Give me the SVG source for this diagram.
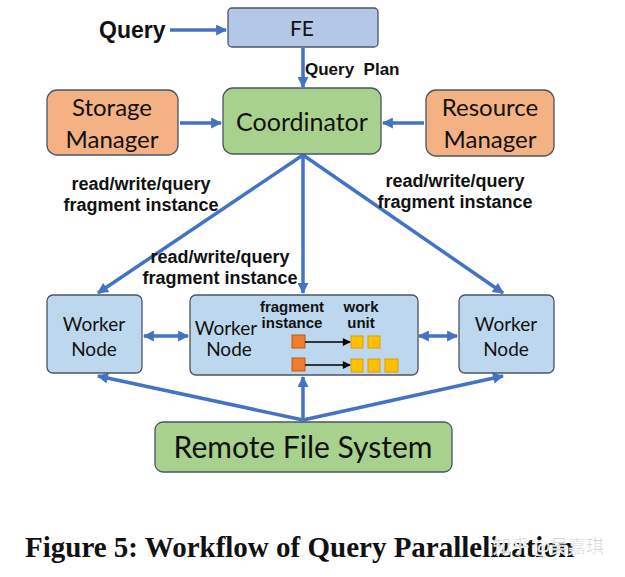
<svg xmlns="http://www.w3.org/2000/svg" width="625" height="577" viewBox="0 0 625 577">
<style>
.box{stroke:#4a5566;stroke-width:1.3}
.fe{fill:#b4c7e7}
.green{fill:#a9d18e}
.orange{fill:#f4b183}
.worker{fill:#bdd7ee}
.t{font-family:Lato,"Open Sans","Noto Sans",sans-serif;fill:#111;text-anchor:middle}
.lbl{font-family:"Liberation Sans",Arial,sans-serif;font-weight:bold;fill:#111;text-anchor:middle}
.conn{stroke:#4472c4;stroke-width:3.5;fill:none}
.fi{fill:#ed7d31;stroke:#c55a11;stroke-width:1}
.wu{fill:#ffc000;stroke:#d9a000;stroke-width:1}
</style>
<defs>
<marker id="ah" viewBox="0 0 10 10" refX="9" refY="5" markerWidth="12" markerHeight="11" markerUnits="userSpaceOnUse" orient="auto-start-reverse">
<path d="M0,0 L10,5 L0,10 z" fill="#4472c4"/>
</marker>
<marker id="bh" viewBox="0 0 10 10" refX="9" refY="5" markerWidth="9" markerHeight="8" markerUnits="userSpaceOnUse" orient="auto">
<path d="M0,0 L10,5 L0,10 z" fill="#000"/>
</marker>
</defs>
<rect width="625" height="577" fill="#fff"/>

<g id="connectors">
<line class="conn" x1="170" y1="30" x2="226" y2="30" marker-end="url(#ah)"/>
<line class="conn" x1="303" y1="48" x2="303" y2="87" marker-end="url(#ah)"/>
<line class="conn" x1="180" y1="123" x2="221" y2="123" marker-end="url(#ah)"/>
<line class="conn" x1="424" y1="123" x2="383" y2="123" marker-end="url(#ah)"/>
<line class="conn" x1="303" y1="155" x2="98" y2="293" marker-end="url(#ah)"/>
<line class="conn" x1="303" y1="155" x2="303" y2="293" marker-end="url(#ah)"/>
<line class="conn" x1="303" y1="155" x2="503" y2="293" marker-end="url(#ah)"/>
<line class="conn" x1="144" y1="336" x2="188" y2="336" marker-start="url(#ah)" marker-end="url(#ah)"/>
<line class="conn" x1="419" y1="336" x2="457" y2="336" marker-start="url(#ah)" marker-end="url(#ah)"/>
<line class="conn" x1="303" y1="420" x2="98" y2="376" marker-end="url(#ah)"/>
<line class="conn" x1="303" y1="420" x2="303" y2="377" marker-end="url(#ah)"/>
<line class="conn" x1="303" y1="420" x2="503" y2="376" marker-end="url(#ah)"/>
<text class="lbl" x="99" y="38" font-size="23" style="text-anchor:start">Query</text>
<text class="lbl" x="305" y="75" font-size="17" style="text-anchor:start">Query&#160; Plan</text>
<text class="lbl" x="141" y="190" font-size="18">read/write/query</text>
<text class="lbl" x="141" y="211" font-size="18">fragment instance</text>
<text class="lbl" x="455" y="187" font-size="18">read/write/query</text>
<text class="lbl" x="455" y="208" font-size="18">fragment instance</text>
<text class="lbl" x="220" y="263" font-size="18">read/write/query</text>
<text class="lbl" x="220" y="284" font-size="18">fragment instance</text>
</g>

<g id="fe">
<rect class="box fe" x="228" y="8" width="150" height="39" rx="4"/>
<text class="t" x="302" y="36" font-size="21">FE</text>
</g>

<g id="coordinator">
<rect class="box green" x="223" y="88" width="158" height="66" rx="10"/>
<text class="t" x="302" y="131" font-size="25">Coordinator</text>
</g>

<g id="storage-manager">
<rect class="box orange" x="47" y="90" width="131" height="65" rx="10"/>
<text class="t" x="112" y="116" font-size="24">Storage</text>
<text class="t" x="112" y="148" font-size="24">Manager</text>
</g>

<g id="resource-manager">
<rect class="box orange" x="426" y="90" width="128" height="66" rx="10"/>
<text class="t" x="490" y="116" font-size="24">Resource</text>
<text class="t" x="490" y="148" font-size="24">Manager</text>
</g>

<g id="worker-left">
<rect class="box worker" x="47" y="295" width="95" height="78" rx="6"/>
<text class="t" x="94" y="331" font-size="19">Worker</text>
<text class="t" x="94" y="356" font-size="19">Node</text>
</g>

<g id="worker-middle">
<rect class="box worker" x="190" y="295" width="228" height="80" rx="6"/>
<text class="t" x="226" y="335" font-size="19">Worker</text>
<text class="t" x="229" y="356" font-size="19">Node</text>
<text class="lbl" x="292" y="312" font-size="15">fragment</text>
<text class="lbl" x="292" y="328" font-size="15">instance</text>
<text class="lbl" x="361" y="312" font-size="15">work</text>
<text class="lbl" x="361" y="328" font-size="15">unit</text>
<rect class="fi" x="292" y="335" width="13" height="13"/>
<rect class="fi" x="292" y="358" width="13" height="13"/>
<line x1="305" y1="342" x2="350" y2="342" stroke="#000" stroke-width="1.6" marker-end="url(#bh)"/>
<line x1="305" y1="365" x2="350" y2="365" stroke="#000" stroke-width="1.6" marker-end="url(#bh)"/>
<rect class="wu" x="351" y="336" width="12" height="12"/>
<rect class="wu" x="368" y="336" width="12" height="12"/>
<rect class="wu" x="351" y="359" width="12" height="13"/>
<rect class="wu" x="368" y="359" width="12" height="13"/>
<rect class="wu" x="385" y="359" width="13" height="13"/>
</g>

<g id="worker-right">
<rect class="box worker" x="459" y="295" width="95" height="78" rx="6"/>
<text class="t" x="506" y="331" font-size="19">Worker</text>
<text class="t" x="506" y="356" font-size="19">Node</text>
</g>

<g id="remote-file-system">
<rect class="box green" x="155" y="422" width="297" height="50" rx="8"/>
<text class="t" x="303" y="458" font-size="30">Remote File System</text>
</g>

<text x="25" y="557" font-family="'Liberation Serif','Times New Roman',serif" font-weight="bold" font-size="29" fill="#111">Figure 5: Workflow of Query Parallelization</text>
<text x="493" y="553" font-family="'Noto Sans CJK SC',sans-serif" font-size="18" fill="#c8c8c8" stroke="#fff" stroke-width="0.6">知乎 @吴嘉琪</text>
</svg>
